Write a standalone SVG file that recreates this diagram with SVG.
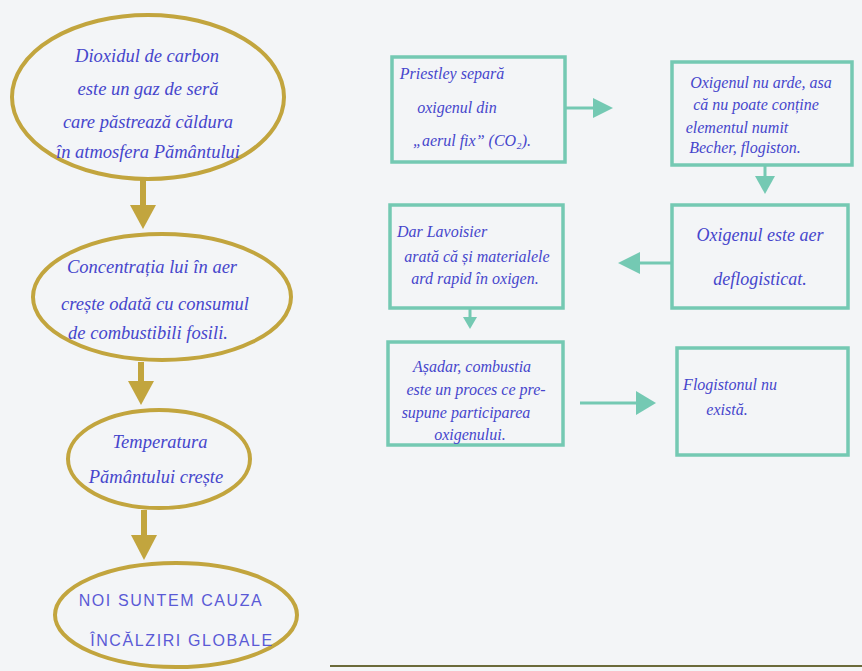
<svg xmlns="http://www.w3.org/2000/svg" width="862" height="671" viewBox="0 0 862 671">
<style>
.bg{fill:#f3f5f7}
.ell{fill:none;stroke:#c2a53e;stroke-width:4}
.box{fill:none;stroke:#74c9b3;stroke-width:3.5}
.hw{font-family:"Liberation Serif",serif;font-style:italic;fill:#4646cc;text-anchor:middle}
.e1{font-size:18.5px}
.bx{font-size:16px}
.caps{font-family:"Liberation Sans",sans-serif;font-size:16px;fill:#5a5ad6;letter-spacing:1.6px;text-anchor:middle}
.gline{stroke:#c2a53e;stroke-width:6;fill:none}
.tline{stroke:#74c9b3;stroke-width:3;fill:none}
.ghead{fill:#c2a53e}
.thead{fill:#74c9b3}
</style>
<rect class="bg" x="0" y="0" width="862" height="671"/>
<line x1="330" y1="666" x2="862" y2="666" stroke="#6b6a3a" stroke-width="2"/>

<g id="connectors">
  <line class="gline" x1="143" y1="180" x2="143" y2="208"/>
  <polygon class="ghead" points="130,205 156,205 143,229"/>
  <line class="gline" x1="141" y1="362" x2="141" y2="384"/>
  <polygon class="ghead" points="128,381 154,381 141,405"/>
  <line class="gline" x1="144" y1="510" x2="144" y2="538"/>
  <polygon class="ghead" points="131,535 157,535 144,560"/>

  <line class="tline" x1="565" y1="108" x2="595" y2="108"/>
  <polygon class="thead" points="593,98 593,118 613,108"/>
  <line class="tline" x1="765" y1="165" x2="765" y2="178"/>
  <polygon class="thead" points="755,176 775,176 765,194"/>
  <line class="tline" x1="672" y1="263" x2="638" y2="263"/>
  <polygon class="thead" points="640,252 640,274 618,263"/>
  <line class="tline" x1="470" y1="308" x2="470" y2="318"/>
  <polygon class="thead" points="463,317 477,317 470,329"/>
  <line class="tline" x1="580" y1="403" x2="638" y2="403"/>
  <polygon class="thead" points="636,391 636,415 656,403"/>
</g>

<g id="n1">
  <ellipse class="ell" cx="148" cy="97" rx="136" ry="82"/>
  <text class="hw e1" x="147" y="62">Dioxidul de carbon</text>
  <text class="hw e1" x="148" y="95">este un gaz de seră</text>
  <text class="hw e1" x="148" y="128">care păstrează căldura</text>
  <text class="hw e1" x="148" y="158">în atmosfera Pământului</text>
</g>
<g id="n2">
  <ellipse class="ell" cx="162" cy="297" rx="129" ry="63"/>
  <text class="hw e1" x="152" y="273">Concentrația lui în aer</text>
  <text class="hw e1" x="155" y="310">crește odată cu consumul</text>
  <text class="hw e1" x="148" y="339">de combustibili fosili.</text>
</g>
<g id="n3">
  <ellipse class="ell" cx="159" cy="459" rx="91" ry="49"/>
  <text class="hw e1" x="160" y="448">Temperatura</text>
  <text class="hw e1" x="156" y="483">Pământului crește</text>
</g>
<g id="n4">
  <ellipse class="ell" cx="176" cy="615" rx="121" ry="52"/>
  <text class="caps" x="171" y="606">NOI SUNTEM CAUZA</text>
  <text class="caps" x="182" y="646">ÎNCĂLZIRI GLOBALE</text>
</g>

<g id="bA">
  <rect class="box" x="392" y="57" width="173" height="105"/>
  <text class="hw bx" x="452" y="79">Priestley separă</text>
  <text class="hw bx" x="457" y="113">oxigenul din</text>
  <text class="hw bx" x="472" y="146">„aerul fix” (CO₂).</text>
</g>
<g id="bB">
  <rect class="box" x="672" y="62" width="180" height="103"/>
  <text class="hw bx" x="761" y="88">Oxigenul nu arde, asa</text>
  <text class="hw bx" x="756" y="110">că nu poate conține</text>
  <text class="hw bx" x="737" y="133">elementul numit</text>
  <text class="hw bx" x="745" y="153">Becher, flogiston.</text>
</g>
<g id="bC">
  <rect class="box" x="672" y="205" width="176" height="103"/>
  <text class="hw" style="font-size:18px" x="760" y="241">Oxigenul este aer</text>
  <text class="hw" style="font-size:18px" x="760" y="285">deflogisticat.</text>
</g>
<g id="bD">
  <rect class="box" x="390" y="205" width="173" height="103"/>
  <text class="hw bx" x="442" y="237">Dar Lavoisier</text>
  <text class="hw bx" x="477" y="262">arată că și materialele</text>
  <text class="hw bx" x="475" y="284">ard rapid în oxigen.</text>
</g>
<g id="bE">
  <rect class="box" x="388" y="342" width="175" height="103"/>
  <text class="hw bx" x="472" y="372">Așadar, combustia</text>
  <text class="hw bx" x="476" y="395">este un proces ce pre-</text>
  <text class="hw bx" x="466" y="418">supune participarea</text>
  <text class="hw bx" x="470" y="440">oxigenului.</text>
</g>
<g id="bF">
  <rect class="box" x="677" y="348" width="171" height="107"/>
  <text class="hw bx" x="730" y="390">Flogistonul nu</text>
  <text class="hw bx" x="727" y="415">există.</text>
</g>
</svg>
